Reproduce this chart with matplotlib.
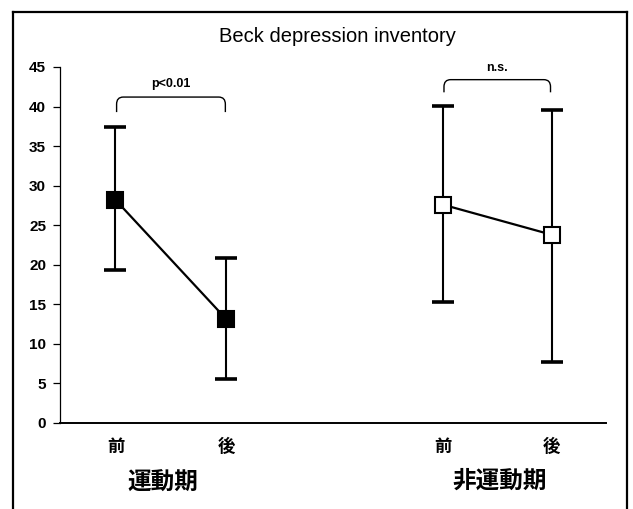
import matplotlib
matplotlib.use("Agg")
import matplotlib.pyplot as plt
from matplotlib.path import Path
from matplotlib.patches import PathPatch
from matplotlib.lines import Line2D

# Data: Beck depression inventory, before/after, exercise vs non-exercise period
tick_labels = ["前", "後", "前", "後"]
group_labels = ["運動期", "非運動期"]
exercise_mean = [28.2, 13.1]
exercise_upper = [37.4, 20.9]
exercise_lower = [19.3, 5.6]
rest_mean = [27.6, 23.8]
rest_upper = [40.1, 39.6]
rest_lower = [15.3, 7.7]
sig_labels = ["p<0.01", "n.s."]

W, H, DPI = 633, 509, 100
fig = plt.figure(figsize=(W / DPI, H / DPI), dpi=DPI)
fig.patch.set_facecolor("white")

# outer frame (open at the bottom)
frame_kw = dict(color="black", lw=1.6, transform=fig.transFigure)
fig.add_artist(Line2D([13 / W, 13 / W], [0, 1 - 12 / H], **frame_kw))
fig.add_artist(Line2D([627 / W, 627 / W], [0, 1 - 12 / H], **frame_kw))
fig.add_artist(Line2D([13 / W, 627 / W], [1 - 12 / H, 1 - 12 / H], **frame_kw))

ax = fig.add_axes([60 / W, 1 - 423 / H, (606 - 60) / W, (423 - 67) / H])
pos_ex = [1.0, 2.0]
pos_rest = [3.95, 4.93]
ax.set_xlim(0.5, 5.42)
ax.set_ylim(0, 45)

for sp in ["top", "right"]:
    ax.spines[sp].set_visible(False)
ax.spines["left"].set_linewidth(0.9)
ax.spines["bottom"].set_linewidth(1.4)

num_font = dict(family="Liberation Sans", weight="bold", size=11)
ax.set_yticks(range(0, 46, 5))
ax.set_yticklabels([str(v) for v in range(0, 46, 5)], **num_font)
ax.tick_params(axis="y", length=5, width=0.9, pad=5)

cjk = ["Noto Sans CJK JP", "DejaVu Sans"]
ax.set_xticks(pos_ex + pos_rest)
ax.set_xticklabels(tick_labels, family=cjk, weight="bold", size=12.5)
ax.tick_params(axis="x", length=0, pad=11)


def draw_group(pos, mean, upper, lower, face):
    yerr = [[m - lo for m, lo in zip(mean, lower)],
            [u - m for m, u in zip(mean, upper)]]
    ax.errorbar(pos, mean, yerr=yerr, fmt="none", ecolor="black",
                elinewidth=1.5, capsize=8, capthick=2.6, zorder=2)
    ax.plot(pos, mean, color="black", lw=1.6, marker="s", markersize=11,
            markerfacecolor=face, markeredgecolor="black", markeredgewidth=1.5,
            zorder=3)


draw_group(pos_ex, exercise_mean, exercise_upper, exercise_lower, "black")
draw_group(pos_rest, rest_mean, rest_upper, rest_lower, "white")


def bracket(x0, x1, y_end, y_top, label, label_y):
    rx, ry = 0.06, 0.9
    verts = [(x0, y_end), (x0, y_top - ry), (x0, y_top), (x0 + rx, y_top),
             (x1 - rx, y_top), (x1, y_top), (x1, y_top - ry), (x1, y_end)]
    codes = [Path.MOVETO, Path.LINETO, Path.CURVE3, Path.CURVE3,
             Path.LINETO, Path.CURVE3, Path.CURVE3, Path.LINETO]
    ax.add_patch(PathPatch(Path(verts, codes), fill=False, lw=1.0,
                           edgecolor="black", clip_on=False))
    ax.text((x0 + x1) / 2, label_y, label, ha="center", va="center",
            family="Liberation Sans", weight="bold", size=9, clip_on=False)


bracket(1.01, 1.99, 39.3, 41.2, sig_labels[0], 42.8)
bracket(3.96, 4.92, 41.8, 43.4, sig_labels[1], 44.9)

# group names under the tick labels
fig.text(163 / W, 1 - 483 / H, group_labels[0], ha="center", va="center",
         family=cjk, weight="bold", size=17)
fig.text(500 / W, 1 - 481 / H, group_labels[1], ha="center", va="center",
         family=cjk, weight="bold", size=17)

fig.text(337 / W, 1 - 36 / H, "Beck depression inventory", ha="center",
         va="center", family="Liberation Sans", size=14.5)

fig.savefig("out.png", dpi=DPI)
